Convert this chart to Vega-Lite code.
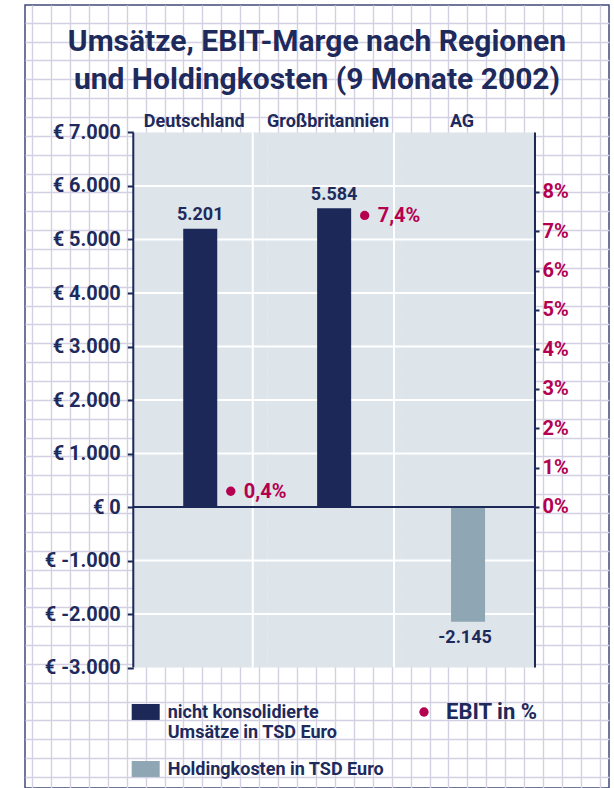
{
  "$schema": "https://vega.github.io/schema/vega-lite/v6.json",
  "width": 584,
  "height": 783,
  "autosize": {"type": "none"},
  "padding": {"left": 25, "top": 5, "right": 5, "bottom": 0},
  "background": "white",
  "title": {
    "text": ["Umsätze, EBIT-Marge nach Regionen", "und Holdingkosten (9 Monate 2002)"],
    "anchor": "middle",
    "frame": "group",
    "offset": -90,
    "font": "Roboto",
    "fontSize": 30,
    "fontWeight": "bold",
    "color": "#1e2a5c",
    "lineHeight": 38
  },
  "datasets": {
    "regionen": [
      {"region": "Deutschland", "wert": 5201, "typ": "nicht konsolidierte Umsätze in TSD Euro", "ebit": 0.004},
      {"region": "Großbritannien", "wert": 5584, "typ": "nicht konsolidierte Umsätze in TSD Euro", "ebit": 0.074},
      {"region": "AG", "wert": -2145, "typ": "Holdingkosten in TSD Euro", "ebit": null}
    ],
    "raster": [
      {"wert": -2000}, {"wert": -1000}, {"wert": 1000}, {"wert": 2000},
      {"wert": 3000}, {"wert": 4000}, {"wert": 5000}, {"wert": 6000}
    ]
  },
  "layer": [
    {
      "data": {"values": [{}]},
      "mark": {"type": "point", "opacity": 0},
      "encoding": {
        "x": {
          "datum": 0,
          "type": "quantitative",
          "scale": {"domain": [-0.37, 30.48], "nice": false, "zero": false},
          "axis": {
            "orient": "bottom", "grid": true, "labels": false, "ticks": false, "domain": false, "title": null,
            "values": [0,1,2,3,4,5,6,7,8,9,10,11,12,13,14,15,16,17,18,19,20,21,22,23,24,25,26,27,28,29,30],
            "gridColor": "#d4d0e3", "gridWidth": 1.4, "gridOpacity": 1
          }
        },
        "y": {
          "datum": 0,
          "type": "quantitative",
          "scale": {"domain": [-0.9385, 40.58], "nice": false, "zero": false, "reverse": true},
          "axis": {
            "orient": "left", "grid": true, "labels": false, "ticks": false, "domain": false, "title": null,
            "values": [0,1,2,3,4,5,6,7,8,9,10,11,12,13,14,15,16,17,18,19,20,21,22,23,24,25,26,27,28,29,30,31,32,33,34,35,36,37,38,39,40],
            "gridColor": "#d4d0e3", "gridWidth": 1.4, "gridOpacity": 1
          }
        }
      }
    },
    {
      "layer": [
        {
          "data": {"name": "regionen"},
          "layer": [
            {
              "mark": {"type": "rect", "color": "#dde4ea"},
              "encoding": {
                "x": {"field": "region", "type": "nominal"},
                "y": {"datum": -3000},
                "y2": {"datum": 7000}
              }
            },
            {
              "data": {"name": "raster"},
              "mark": {"type": "rule", "color": "white", "strokeWidth": 2},
              "encoding": {
                "x": {"datum": "Deutschland", "bandPosition": 0},
                "x2": {"datum": "AG", "bandPosition": 1},
                "y": {"field": "wert", "type": "quantitative"}
              }
            },
            {
              "data": {"values": [{}]},
              "mark": {"type": "rule", "color": "white", "strokeWidth": 2},
              "encoding": {
                "x": {"datum": "Deutschland", "bandPosition": 0.892},
                "y": {"datum": -3000},
                "y2": {"datum": 7000}
              }
            },
            {
              "data": {"values": [{}]},
              "mark": {"type": "rule", "color": "white", "strokeWidth": 2},
              "encoding": {
                "x": {"datum": "Großbritannien", "bandPosition": 0.947},
                "y": {"datum": -3000},
                "y2": {"datum": 7000}
              }
            },
            {
              "mark": {"type": "bar", "width": {"band": 0.254}},
              "encoding": {
                "x": {
                  "field": "region",
                  "type": "nominal",
                  "scale": {"domain": ["Deutschland", "Großbritannien", "AG"], "paddingInner": 0, "paddingOuter": 0.6807, "align": 0.594},
                  "axis": {
                    "orient": "top", "offset": -128, "domain": false, "ticks": false, "tickSize": 0,
                    "labelPadding": 7, "labelAngle": 0, "labelAlign": "center", "labelBaseline": "alphabetic",
                    "labelFont": "Roboto", "labelFontSize": 18,
                    "labelFontWeight": "bold", "labelColor": "#1e2a5c", "labelOffset": -6, "title": null
                  }
                },
                "y": {
                  "field": "wert",
                  "type": "quantitative",
                  "stack": null,
                  "scale": {"domain": [-5252, 9383], "nice": false, "zero": false},
                  "axis": {
                    "orient": "left", "offset": -108.3,
                    "values": [-3000, -2000, -1000, 0, 1000, 2000, 3000, 4000, 5000, 6000, 7000],
                    "labelExpr": "'€ ' + format(datum.value, ',.0f')",
                    "domain": false, "grid": false, "ticks": true, "tickSize": 6, "tickWidth": 2,
                    "tickColor": "#1b2858", "labelPadding": 7, "labelFont": "Roboto", "labelFontSize": 20,
                    "labelFontWeight": "bold", "labelColor": "#1e2a5c", "title": null
                  }
                },
                "color": {
                  "field": "typ",
                  "type": "nominal",
                  "scale": {
                    "domain": ["nicht konsolidierte Umsätze in TSD Euro", "Holdingkosten in TSD Euro"],
                    "range": ["#1b2858", "#8fa6b5"]
                  },
                  "legend": {
                    "orient": "none", "legendX": 106.7, "legendY": 699, "title": null, "padding": 0,
                    "symbolType": "M-1,-1H1V0.14H-1Z", "symbolSize": 784, "symbolStrokeWidth": 0,
                    "labelFont": "Roboto", "labelFontSize": 18, "labelFontWeight": "bold",
                    "labelColor": "#1e2a5c", "labelOffset": 8, "labelLimit": 300,
                    "labelBaseline": "alphabetic", "rowPadding": 19,
                    "labelExpr": "datum.label == 'nicht konsolidierte Umsätze in TSD Euro' ? ['nicht konsolidierte', 'Umsätze in TSD Euro'] : datum.label"
                  }
                }
              }
            },
            {
              "data": {"values": [{}]},
              "mark": {"type": "rule", "color": "#1b2858", "strokeWidth": 2},
              "encoding": {
                "x": {"datum": "Deutschland", "bandPosition": 0},
                "x2": {"datum": "AG", "bandPosition": 1},
                "y": {"datum": 0}
              }
            },
            {
              "data": {"values": [{}]},
              "mark": {"type": "rule", "color": "#1b2858", "strokeWidth": 2},
              "encoding": {
                "x": {"datum": "Deutschland", "bandPosition": 0},
                "y": {"datum": -3000},
                "y2": {"datum": 7000}
              }
            },
            {
              "data": {"values": [{}]},
              "mark": {"type": "rule", "color": "#1b2858", "strokeWidth": 2},
              "encoding": {
                "x": {"datum": "AG", "bandPosition": 1},
                "y": {"datum": -3000},
                "y2": {"datum": 7000}
              }
            },
            {
              "transform": [{"filter": "datum.wert >= 0"}],
              "mark": {"type": "text", "baseline": "alphabetic", "dy": -8.5, "font": "Roboto", "fontSize": 18, "fontWeight": "bold", "color": "#1e2a5c"},
              "encoding": {
                "x": {"field": "region", "type": "nominal"},
                "y": {"field": "wert", "type": "quantitative"},
                "text": {"field": "wert", "type": "quantitative", "format": ",.0f"}
              }
            },
            {
              "transform": [{"filter": "datum.wert < 0"}],
              "mark": {"type": "text", "baseline": "alphabetic", "dy": 21, "dx": -3, "font": "Roboto", "fontSize": 18, "fontWeight": "bold", "color": "#1e2a5c"},
              "encoding": {
                "x": {"field": "region", "type": "nominal"},
                "y": {"field": "wert", "type": "quantitative"},
                "text": {"field": "wert", "type": "quantitative", "format": ",.0f"}
              }
            }
          ]
        },
        {
          "data": {"name": "regionen"},
          "transform": [{"filter": "datum.ebit != null"}],
          "layer": [
            {
              "mark": {"type": "point", "filled": true, "size": 87, "opacity": 1},
              "encoding": {
                "x": {"field": "region", "type": "nominal", "bandPosition": 0.728},
                "y": {
                  "field": "ebit",
                  "type": "quantitative",
                  "scale": {"domain": [-0.07132, 0.12741], "nice": false, "zero": false},
                  "axis": {
                    "orient": "right", "offset": -74,
                    "values": [0, 0.01, 0.02, 0.03, 0.04, 0.05, 0.06, 0.07, 0.08],
                    "format": ".0%", "domain": false, "grid": false, "tickSize": 4, "tickWidth": 2,
                    "tickColor": "#1b2858", "labelPadding": 3, "labelFont": "Roboto", "labelFontSize": 20,
                    "labelFontWeight": "bold", "labelColor": "#b5004f", "title": null
                  }
                },
                "color": {
                  "datum": "EBIT in %",
                  "scale": {"range": ["#b5004f"]},
                  "legend": {
                    "orient": "none", "legendX": 388, "legendY": 696, "title": null, "padding": 0,
                    "symbolType": "circle", "symbolSize": 87, "symbolStrokeWidth": 0,
                    "labelFont": "Roboto", "labelFontSize": 22, "labelFontWeight": "bold",
                    "labelColor": "#1e2a5c", "labelOffset": 11
                  }
                }
              }
            },
            {
              "mark": {"type": "text", "align": "left", "baseline": "middle", "dx": 13, "dy": 1, "font": "Roboto", "fontSize": 20, "fontWeight": "bold", "color": "#b5004f"},
              "encoding": {
                "x": {"field": "region", "type": "nominal", "bandPosition": 0.728},
                "y": {"field": "ebit", "type": "quantitative"},
                "text": {"field": "ebit", "type": "quantitative", "format": ".1%"}
              }
            }
          ]
        }
      ],
      "resolve": {"scale": {"y": "independent", "color": "independent"}, "axis": {"y": "independent"}}
    }
  ],
  "resolve": {"scale": {"x": "independent", "y": "independent"}, "axis": {"x": "independent", "y": "independent"}},
  "config": {
    "font": "Roboto",
    "view": {"stroke": "#40497a", "strokeWidth": 1.5, "fill": "white"},
    "axis": {"grid": false},
    "locale": {
      "number": {"decimal": ",", "thousands": ".", "grouping": [3], "currency": ["€ ", ""], "minus": "-", "percent": "%"}
    }
  }
}
